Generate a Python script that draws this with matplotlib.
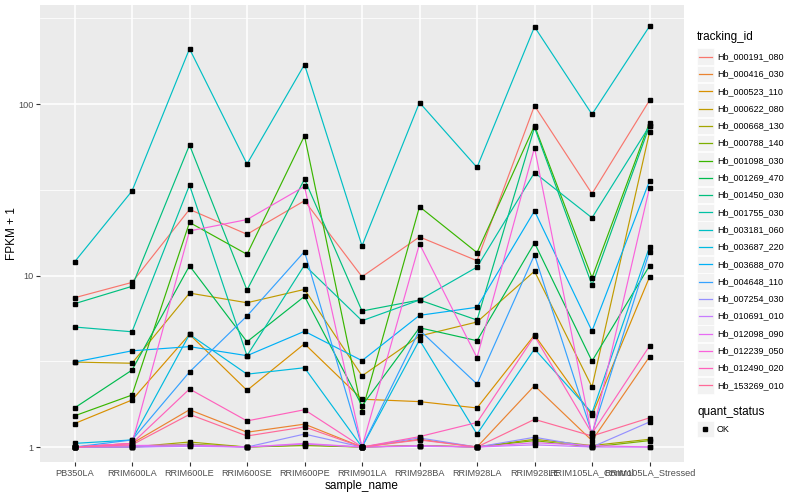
import matplotlib
matplotlib.use("Agg")
import matplotlib.pyplot as plt
from matplotlib.lines import Line2D
from matplotlib.patches import Rectangle
import numpy as np

plt.rcParams['font.family'] = ['Liberation Sans', 'DejaVu Sans']

samples = ["PB350LA", "RRIM600LA", "RRIM600LE", "RRIM600SE", "RRIM600PE",
           "RRIM901LA", "RRIM928BA", "RRIM928LA", "RRIM928LE",
           "RRIM105LA_Control", "RRIM105LA_Stressed"]

tracking_ids = ["Hb_000191_080", "Hb_000416_030", "Hb_000523_110", "Hb_000622_080",
                "Hb_000668_130", "Hb_000788_140", "Hb_001098_030", "Hb_001269_470",
                "Hb_001450_030", "Hb_001755_030", "Hb_003181_060", "Hb_003687_220",
                "Hb_003688_070", "Hb_004648_110", "Hb_007254_030", "Hb_010691_010",
                "Hb_012098_090", "Hb_012239_050", "Hb_012490_020", "Hb_153269_010"]

colors = ["#F8766D", "#EA8331", "#D89000", "#C09B00", "#A3A500", "#7CAE00",
          "#39B600", "#00BB4E", "#00BF7D", "#00C1A3", "#00BFC4", "#00BAE0",
          "#00B0F6", "#35A2FF", "#9590FF", "#C77CFF", "#E76BF3", "#FA62DB",
          "#FF62BC", "#FF6A98"]

# FPKM + 1 values, one list per tracking_id, in sample order
Hb_000191_080 = [7.42, 9.12, 24.3, 17.4, 27.3, 9.84, 16.8, 12.2, 97.8, 30.0, 105.0]
Hb_000416_030 = [1.0, 1.05, 1.65, 1.22, 1.36, 1.0, 1.11, 1.0, 2.28, 1.09, 3.36]
Hb_000523_110 = [1.37, 1.88, 4.54, 2.14, 4.0, 1.90, 1.84, 1.69, 4.5, 1.53, 9.8]
Hb_000622_080 = [3.13, 3.08, 7.9, 6.94, 8.3, 2.60, 4.44, 5.36, 10.6, 2.24, 68.4]
Hb_000668_130 = [1.0, 1.0, 1.07, 1.0, 1.03, 1.0, 1.02, 1.0, 1.11, 1.02, 1.11]
Hb_000788_140 = [1.0, 1.0, 1.04, 1.0, 1.02, 1.0, 1.02, 1.0, 1.09, 1.0, 1.09]
Hb_001098_030 = [1.52, 2.01, 20.4, 13.3, 65.3, 1.61, 25.2, 13.6, 74.8, 9.71, 77.8]
Hb_001269_470 = [1.69, 2.81, 11.4, 4.11, 7.56, 1.74, 4.96, 4.17, 15.5, 3.17, 11.4]
Hb_001450_030 = [6.85, 8.65, 57.7, 8.23, 36.5, 6.21, 7.2, 5.5, 73.0, 8.81, 74.5]
Hb_001755_030 = [5.01, 4.70, 33.7, 3.41, 11.5, 5.45, 7.2, 11.2, 39.8, 21.7, 74.5]
Hb_003181_060 = [12.0, 31.1, 210.0, 44.7, 170.0, 14.9, 102.0, 42.7, 282.0, 87.1, 284.0]
Hb_003687_220 = [1.05, 1.1, 4.54, 2.66, 2.90, 1.0, 4.21, 1.19, 3.73, 1.58, 14.7]
Hb_003688_070 = [3.13, 3.64, 3.85, 3.41, 4.73, 3.19, 5.86, 6.53, 23.8, 4.75, 35.6]
Hb_004648_110 = [1.0, 1.1, 2.74, 5.81, 13.8, 1.0, 4.81, 2.33, 13.2, 1.2, 13.8]
Hb_007254_030 = [1.0, 1.0, 1.02, 1.0, 1.19, 1.0, 1.13, 1.0, 1.14, 1.0, 1.40]
Hb_010691_010 = [1.0, 1.0, 1.01, 1.0, 1.04, 1.0, 1.01, 1.0, 1.03, 1.0, 1.0]
Hb_012098_090 = [1.0, 1.02, 1.03, 1.0, 1.05, 1.0, 1.02, 1.0, 1.06, 1.02, 1.0]
Hb_012239_050 = [1.0, 1.05, 18.2, 21.2, 33.1, 1.0, 15.3, 3.32, 55.6, 1.16, 32.5]
Hb_012490_020 = [1.0, 1.05, 2.18, 1.42, 1.65, 1.0, 1.15, 1.39, 4.44, 1.20, 3.88]
Hb_153269_010 = [1.0, 1.03, 1.55, 1.16, 1.31, 1.0, 1.10, 1.0, 1.45, 1.16, 1.48]

series = [Hb_000191_080, Hb_000416_030, Hb_000523_110, Hb_000622_080, Hb_000668_130,
          Hb_000788_140, Hb_001098_030, Hb_001269_470, Hb_001450_030, Hb_001755_030,
          Hb_003181_060, Hb_003687_220, Hb_003688_070, Hb_004648_110, Hb_007254_030,
          Hb_010691_010, Hb_012098_090, Hb_012239_050, Hb_012490_020, Hb_153269_010]

W, H = 800, 500
fig = plt.figure(figsize=(8, 5), dpi=100)
fig.patch.set_facecolor("white")
L, R, T, B = 40, 684, 5, 462
ax = fig.add_axes([L / W, 1 - B / H, (R - L) / W, (B - T) / H])
ax.set_facecolor("#EBEBEB")
for s in ax.spines.values():
    s.set_visible(False)

x = np.arange(len(samples))
ax.set_yscale("log")
ax.set_xlim(-0.6, len(samples) - 1 + 0.6)
ax.set_ylim(0.818, 378)

# grid
for v in [10 ** 0.5, 10 ** 1.5, 10 ** 2.5]:
    ax.axhline(v, color="white", lw=0.55, zorder=0)
for v in [1, 10, 100]:
    ax.axhline(v, color="white", lw=1.1, zorder=0)
for xi in x:
    ax.axvline(xi, color="white", lw=1.1, zorder=0)

for vals, c in zip(series, colors):
    ax.plot(x, vals, color=c, lw=0.85, zorder=2)
for vals in series:
    ax.plot(x, vals, ls="none", marker="s", ms=2.8, color="black", zorder=3)

ax.set_yticks([1, 10, 100])
ax.set_yticklabels(["1", "10", "100"])
ax.yaxis.set_minor_locator(matplotlib.ticker.NullLocator())
ax.set_xticks(x)
ax.set_xticklabels(samples)
ax.tick_params(axis="both", colors="#333333", length=2.8, width=0.8,
               labelsize=6.6, labelcolor="#4D4D4D", pad=2)
ax.set_xlabel("sample_name", fontsize=8.5, color="black", labelpad=2)
ax.set_ylabel("")


def px(xp, yp):
    return xp / W, 1 - yp / H


fig.text(*px(12, (T + B) / 2), "FPKM + 1", fontsize=8.5, rotation=90,
         va="center", ha="center")

# legend (ggplot style), drawn in pixel coordinates
fig.text(*px(697, 37), "tracking_id", fontsize=8.5, va="center", ha="left")
y0, dy = 56.7, 17.3
for i, (tid, c) in enumerate(zip(tracking_ids, colors)):
    yc = y0 + i * dy
    fig.add_artist(Rectangle(px(697, yc + 8.3), 16.6 / W, 16.6 / H,
                             transform=fig.transFigure, facecolor="#F2F2F2",
                             edgecolor="white", lw=0.5))
    fig.add_artist(Line2D([698.5 / W, 711.5 / W], [1 - yc / H, 1 - yc / H],
                          transform=fig.transFigure, color=c, lw=0.9))
    fig.text(*px(717, yc), tid, fontsize=6.5, va="center", ha="left")

fig.text(*px(697, 412.5), "quant_status", fontsize=8.5, va="center", ha="left")
fig.add_artist(Rectangle(px(697, 429 + 8.3), 16.6 / W, 16.6 / H,
                         transform=fig.transFigure, facecolor="#F2F2F2",
                         edgecolor="white", lw=0.5))
fig.add_artist(Line2D([705.3 / W], [1 - 429 / H], transform=fig.transFigure,
                      ls="none", marker="s", ms=2.8, color="black"))
fig.text(*px(717, 429), "OK", fontsize=6.5, va="center", ha="left")

fig.savefig("out.png", dpi=100)
